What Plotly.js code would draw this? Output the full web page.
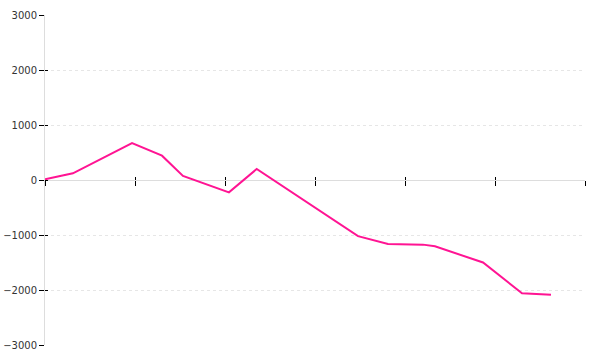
<!DOCTYPE html>
<html>
<head>
<meta charset="utf-8">
<script src="https://cdn.plot.ly/plotly-3.0.1.min.js"></script>
<style>html,body{margin:0;padding:0;background:#fff;}#chart{width:600px;height:360px;}</style>
</head>
<body>
<div id="chart"></div>
<script>
// x positions (in axis units, one tick interval = 1) and values
const xValues = [0, 0.31, 0.967, 1.3, 1.533, 2.044, 2.352, 3.478, 3.811, 4.2, 4.333, 4.867, 5.3, 5.622];
const yValues = [12, 122, 673, 442, 73, -224, 200, -1020, -1164, -1175, -1205, -1500, -2060, -2085];
const xTicks = [0, 1, 2, 3, 4, 5, 6];
const yTicks = [-3000, -2000, -1000, 0, 1000, 2000, 3000];

const tickFont = {family: 'DejaVu Sans, Verdana, sans-serif', size: 10, color: '#333'};

const traces = [
  {x: xValues, y: yValues, type: 'scatter', mode: 'lines',
   line: {color: '#ff1493', width: 2}, hoverinfo: 'skip', showlegend: false},
  {x: [0], y: [0], xaxis: 'x2', yaxis: 'y2', type: 'scatter', mode: 'markers',
   marker: {opacity: 0}, hoverinfo: 'skip', showlegend: false}
];

const layout = {
  width: 600, height: 360,
  margin: {l: 45, r: 15, t: 15, b: 15},
  paper_bgcolor: '#fff', plot_bgcolor: '#fff',
  showlegend: false,
  xaxis: {range: [0, 6], tickvals: xTicks, showticklabels: false, showgrid: false,
          zeroline: false, showline: false, anchor: 'free', position: 0.5,
          ticks: 'outside', ticklen: 5, tickcolor: '#000', tickwidth: 1},
  xaxis2: {range: [0, 6], tickvals: xTicks, showticklabels: false, showgrid: false,
           zeroline: false, showline: false, overlaying: 'x', anchor: 'free', position: 0.5,
           ticks: 'inside', ticklen: 3, tickcolor: '#000', tickwidth: 1},
  yaxis: {range: [-3000, 3000], tickvals: yTicks, ticktext: yTicks.map(v => v < 0 ? '\u2212' + Math.abs(v) : String(v)),
          tickfont: tickFont, showline: true, linecolor: '#dddddd', linewidth: 1,
          showgrid: true, gridcolor: '#e6e6e6', griddash: 'dot', gridwidth: 1,
          zeroline: true, zerolinecolor: '#dddddd', zerolinewidth: 1,
          ticks: 'outside', ticklen: 5, tickcolor: '#000', tickwidth: 1},
  yaxis2: {range: [-3000, 3000], tickvals: yTicks, showticklabels: false, showgrid: false,
           zeroline: false, showline: false, overlaying: 'y',
           ticks: 'inside', ticklen: 3, tickcolor: '#000', tickwidth: 1}
};

Plotly.newPlot('chart', traces, layout, {staticPlot: true, displayModeBar: false});
</script>
</body>
</html>
